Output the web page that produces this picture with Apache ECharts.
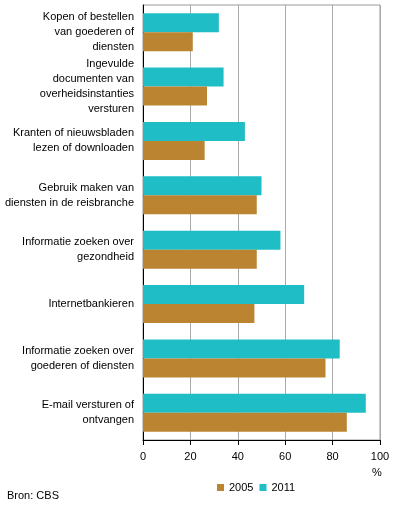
<!DOCTYPE html>
<html>
<head>
    <meta charset="utf-8">
    <title>Internetgebruik 2005 en 2011</title>
    <script src="https://cdn.jsdelivr.net/npm/echarts@6/dist/echarts.min.js"></script>
    <style>
        html, body { margin: 0; padding: 0; background: #fff; }
    </style>
</head>
<body>
<div id="chart" style="width: 396px; height: 512px;"></div>
<script>
    // categorieen van boven naar beneden
    var categories = [
        'Kopen of bestellen\nvan goederen of\ndiensten',
        'Ingevulde\ndocumenten van\noverheidsinstanties\nversturen',
        'Kranten of nieuwsbladen\nlezen of downloaden',
        'Gebruik maken van\ndiensten in de reisbranche',
        'Informatie zoeken over\ngezondheid',
        'Internetbankieren',
        'Informatie zoeken over\ngoederen of diensten',
        'E-mail versturen of\nontvangen'
    ];
    var values2011 = [32, 34, 43, 50, 58, 68, 83, 94];
    var values2005 = [21, 27, 26, 48, 48, 47, 77, 86];
    var xTicks = [0, 20, 40, 60, 80, 100];

    var font = 'Arial, "Liberation Sans", sans-serif';
    var chart = echarts.init(document.getElementById('chart'));

    var option = {
        animation: false,
        textStyle: { fontFamily: font },
        grid: {
            left: 143, right: 16, top: 5, bottom: 72,
            show: true, borderColor: '#999', borderWidth: 1
        },
        legend: {
            data: ['2005', '2011'],
            left: 212, top: 477,
            icon: 'rect', itemWidth: 7, itemHeight: 7, itemGap: 6,
            textStyle: { fontSize: 11, color: '#000', fontFamily: font }
        },
        xAxis: {
            type: 'value',
            min: xTicks[0], max: xTicks[xTicks.length - 1], interval: 20,
            axisLine: { show: true, lineStyle: { color: '#000' } },
            axisTick: { show: true, length: 5, lineStyle: { color: '#000' } },
            axisLabel: { fontSize: 11, color: '#000', margin: 11, fontFamily: font },
            splitLine: { show: true, lineStyle: { color: '#aaa' } }
        },
        yAxis: {
            type: 'category',
            inverse: true,
            data: categories,
            axisLine: { show: true, lineStyle: { color: '#000' } },
            axisTick: { show: false },
            axisLabel: {
                fontSize: 11, color: '#000', margin: 9, lineHeight: 15,
                align: 'right', fontFamily: font
            }
        },
        graphic: [
            { type: 'text', left: 372, top: 467, style: { text: '%', fill: '#000', font: '11px ' + font } },
            { type: 'text', left: 7, top: 490, style: { text: 'Bron: CBS', fill: '#000', font: '11px ' + font } }
        ],
        series: [
            {
                name: '2011', type: 'bar', data: values2011,
                barWidth: 19, barGap: '0%',
                itemStyle: { color: '#1fbdc6' }
            },
            {
                name: '2005', type: 'bar', data: values2005,
                barWidth: 19, barGap: '0%',
                itemStyle: { color: '#bb8431' }
            }
        ]
    };

    chart.setOption(option);
</script>
</body>
</html>
